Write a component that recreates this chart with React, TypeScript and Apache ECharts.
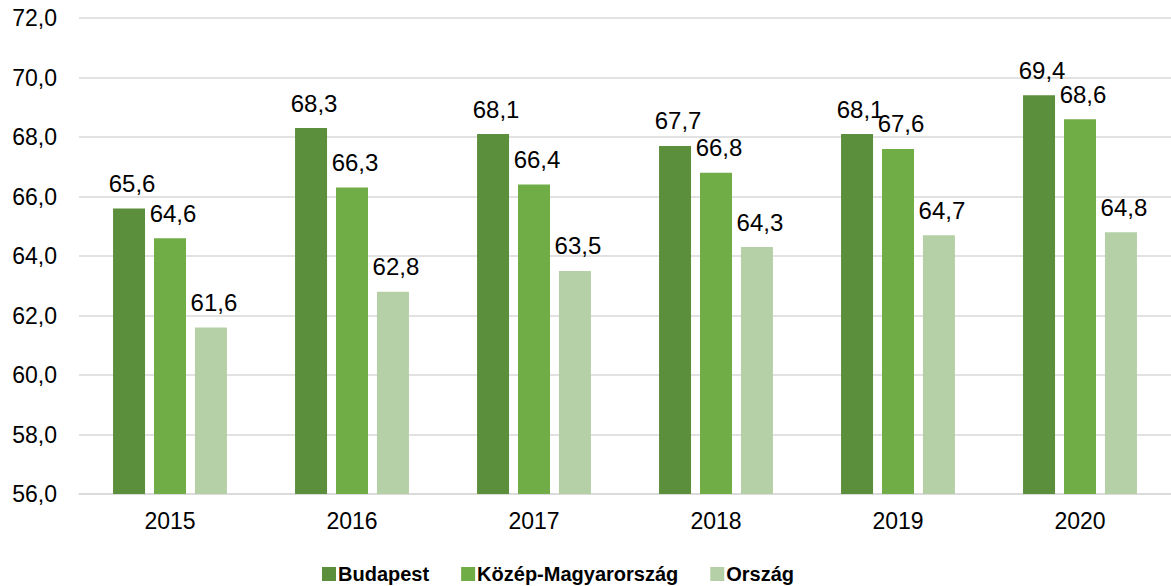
import React, { useEffect, useRef } from "react";
import * as echarts from "echarts";

const categories = ["2015", "2016", "2017", "2018", "2019", "2020"];
const budapest = [65.6, 68.3, 68.1, 67.7, 68.1, 69.4];
const kozep = [64.6, 66.3, 66.4, 66.8, 67.6, 68.6];
const orszag = [61.6, 62.8, 63.5, 64.3, 64.7, 64.8];
const seriesNames = ["Budapest", "Közép-Magyarország", "Ország"];
const colors = ["#5b8f3b", "#70ad47", "#b5d0a6"];

const fmt = (v: number) => v.toFixed(1).replace(".", ",");

export default function App() {
  const ref = useRef<HTMLDivElement>(null);
  useEffect(() => {
    if (!ref.current) return;
    const chart = echarts.init(ref.current, null, { renderer: "svg" });
    const font = "Liberation Sans, Arial, sans-serif";
    const mk = (name: string, data: number[], color: string) => ({
      name,
      type: "bar",
      data,
      barWidth: 32,
      barGap: "28%",
      itemStyle: { color },
      label: {
        show: true,
        position: "top",
        distance: 13,
        offset: [3, 0],
        color: "#000",
        fontSize: 24,
        fontFamily: font,
        formatter: (p: any) => fmt(p.value),
      },
    });
    chart.setOption({
      animation: false,
      textStyle: { fontFamily: font },
      grid: { left: 79, right: 0, top: 18, bottom: 92, containLabel: false },
      legend: {
        bottom: -3,
        left: 317,
        itemWidth: 14,
        itemHeight: 14,
        itemGap: 32,
        icon: "rect",
        textStyle: { fontSize: 20, fontWeight: "bold", color: "#000", fontFamily: font, padding: [0, 0, 0, -3] },
        data: seriesNames,
      },
      xAxis: {
        type: "category",
        data: categories,
        axisLine: { show: true, lineStyle: { color: "#d9d9d9", width: 1.5 } },
        axisTick: { show: false },
        axisLabel: { color: "#000", fontSize: 23, margin: 15, fontFamily: font },
      },
      yAxis: {
        type: "value",
        min: 56,
        max: 72,
        interval: 2,
        axisLine: { show: false },
        axisTick: { show: false },
        splitLine: { lineStyle: { color: "#d9d9d9", width: 1.5 } },
        axisLabel: {
          color: "#000",
          fontSize: 23,
          margin: 22,
          fontFamily: font,
          formatter: (v: number) => fmt(v),
        },
      },
      series: [
        mk(seriesNames[0], budapest, colors[0]),
        mk(seriesNames[1], kozep, colors[1]),
        mk(seriesNames[2], orszag, colors[2]),
      ],
    });
    return () => chart.dispose();
  }, []);
  return (
    <div
      ref={ref}
      style={{ position: "absolute", left: 0, top: 0, width: 1171, height: 586 }}
    />
  );
}
